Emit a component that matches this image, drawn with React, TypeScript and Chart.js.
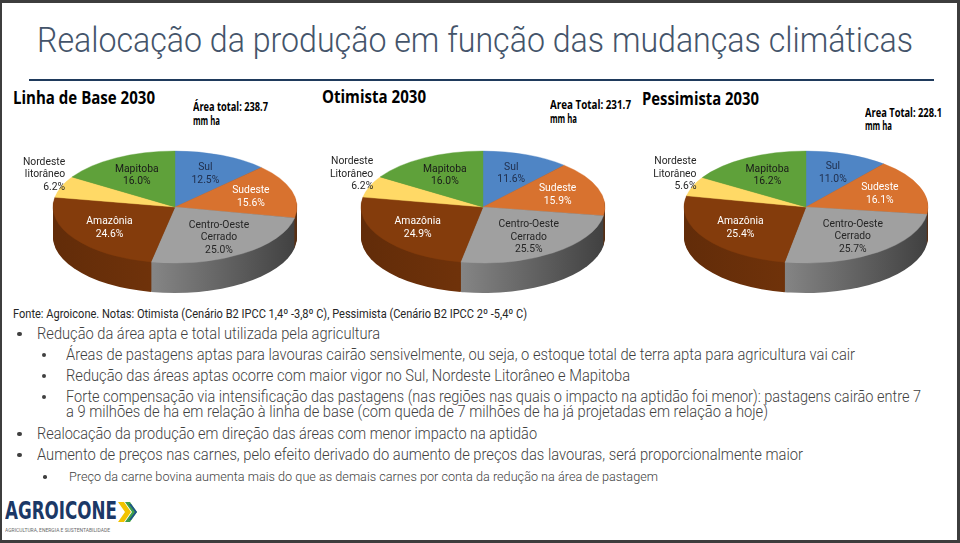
import React, { useEffect, useLayoutEffect, useRef } from "react";
import Chart from "chart.js/auto";

// ---------- DATA ----------
const categoriesBase = ["Sul", "Sudeste", "Centro-Oeste\nCerrado", "Amazônia", "Nordeste\nlitorâneo", "Mapitoba"];
const categoriesScen = ["Sul", "Sudeste", "Centro-Oeste\nCerrado", "Amazônia", "Nordeste\nLitorâneo", "Mapitoba"];
const baseValues = [12.5, 15.6, 25.0, 24.6, 6.2, 16.0];
const otimistaValues = [11.6, 15.9, 25.5, 24.9, 6.2, 16.0];
const pessimistaValues = [11.0, 16.1, 25.7, 25.4, 5.6, 16.2];
const sliceColors = ["#4F85C5", "#D8722F", "#A0A0A0", "#843C0C", "#FFD966", "#5FA13A"];
const labelColors = ["#1F2D4A", "#FFFFFF", "#262626", "#FFFFFF", "#262626", "#1A1A1A"];

const scenarioTitles = ["Linha de Base 2030", "Otimista 2030", "Pessimista 2030"];
const areaTotals = ["Área total: 238.7", "Area Total: 231.7", "Area Total: 228.1"];

const TITLE = "Realocação da produção em função das mudanças climáticas";
const SOURCE = "Fonte: Agroicone. Notas: Otimista (Cenário B2 IPCC 1,4º -3,8º C), Pessimista (Cenário B2 IPCC 2º -5,4º C)";

// ---------- PIE GEOMETRY ----------
const RX = 122;
const RY = 56;
const K = RY / RX;
const DEPTH = 30;
const CW = 320;
const CH = 190;

function shade(hex: string, f: number) {
  const n = parseInt(hex.slice(1), 16);
  const r = Math.round(((n >> 16) & 255) * f);
  const g = Math.round(((n >> 8) & 255) * f);
  const b = Math.round((n & 255) * f);
  return `rgb(${r},${g},${b})`;
}

const LABEL_FONT = "11.5px Roboto, 'Noto Sans', sans-serif";
const SX = 0.9;
const LH = 12.5;

const pie3d = {
  id: "pie3d",
  beforeDatasetsDraw(chart: any) {
    const ctx = chart.ctx;
    const arcs = chart.getDatasetMeta(0).data;
    if (!arcs.length) return;
    const cx = arcs[0].x, cy = arcs[0].y, r = arcs[0].outerRadius;
    const colors = chart.data.datasets[0].backgroundColor;
    for (let d = DEPTH; d >= 1; d--) {
      arcs.forEach((a: any, i: number) => {
        ctx.save();
        ctx.translate(cx, cy + d);
        ctx.scale(1, K);
        const g = ctx.createLinearGradient(-r, 0, r, 0);
        g.addColorStop(0, shade(colors[i], 0.74));
        g.addColorStop(0.4, shade(colors[i], 0.84));
        g.addColorStop(1, shade(colors[i], 0.4));
        ctx.fillStyle = g;
        ctx.beginPath();
        ctx.moveTo(0, 0);
        ctx.arc(0, 0, r, a.startAngle, a.endAngle);
        ctx.closePath();
        ctx.fill();
        ctx.restore();
      });
    }
    ctx.save();
    ctx.translate(cx, cy);
    ctx.scale(1, K);
    ctx.translate(-cx, -cy);
  },
  afterDatasetsDraw(chart: any) {
    const ctx = chart.ctx;
    ctx.restore();
    const arcs = chart.getDatasetMeta(0).data;
    const ds = chart.data.datasets[0];
    const labels = chart.data.labels as string[];
    ctx.save();
    ctx.font = LABEL_FONT;
    ctx.textBaseline = "middle";
    arcs.forEach((a: any, i: number) => {
      const v = ds.data[i] as number;
      const mid = (a.startAngle + a.endAngle) / 2;
      const lines = [...labels[i].split("\n"), v.toFixed(1) + "%"];
      const outside = v < 8;
      const f = outside ? 1.08 : 0.65;
      const px = a.x + Math.cos(mid) * a.outerRadius * f;
      const py = a.y + Math.sin(mid) * a.outerRadius * f * K;
      let bx = px, by = py;
      if (outside) { bx = px + 13; by = py - 11; }
      ctx.fillStyle = outside ? "#262626" : labelColors[i];
      ctx.textAlign = outside ? "right" : "center";
      lines.forEach((ln, j) => {
        ctx.save();
        ctx.translate(bx, by + (j - (lines.length - 1) / 2) * LH);
        ctx.scale(SX, 1);
        ctx.fillText(ln, 0, 0);
        ctx.restore();
      });
    });
    ctx.restore();
  },
};

function Pie3D({ values, labels, cx, cy }: { values: number[]; labels: string[]; cx: number; cy: number }) {
  const ref = useRef<HTMLCanvasElement>(null);
  useEffect(() => {
    if (!ref.current) return;
    const chart = new Chart(ref.current, {
      type: "pie",
      data: {
        labels,
        datasets: [
          {
            data: values,
            backgroundColor: sliceColors,
            borderColor: sliceColors,
            borderWidth: 0.5,
            radius: RX,
            clip: false,
          } as any,
        ],
      },
      options: {
        responsive: false,
        animation: false,
        events: [],
        layout: { padding: 0 },
        plugins: { legend: { display: false }, tooltip: { enabled: false } },
      },
      plugins: [pie3d as any],
    });
    return () => chart.destroy();
  }, []);
  return (
    <canvas
      ref={ref}
      width={CW}
      height={CH}
      style={{ position: "absolute", left: cx - CW / 2, top: cy - CH / 2, width: CW, height: CH }}
    />
  );
}

// ---------- TEXT ----------
function T({
  x, yc, w, size, weight = 400, color = "#3F3F3F", family = "Roboto, 'Noto Sans', sans-serif", children,
}: {
  x: number; yc: number; w?: number; size: number; weight?: number; color?: string; family?: string; children: React.ReactNode;
}) {
  const ref = useRef<HTMLSpanElement>(null);
  useLayoutEffect(() => {
    const el = ref.current;
    if (!el || !w) return;
    const fit = () => {
      el.style.transform = "none";
      const nat = el.getBoundingClientRect().width;
      if (nat > 0) el.style.transform = `scaleX(${w / nat})`;
    };
    fit();
    (document as any).fonts?.ready?.then(fit);
  }, [w]);
  return (
    <span
      ref={ref}
      style={{
        position: "absolute",
        left: x,
        top: yc - size * 0.6,
        fontSize: size,
        lineHeight: `${size * 1.2}px`,
        fontWeight: weight,
        color,
        fontFamily: family,
        whiteSpace: "nowrap",
        transformOrigin: "0 0",
      }}
    >
      {children}
    </span>
  );
}

function Dot({ x, yc, d }: { x: number; yc: number; d: number }) {
  return (
    <div style={{ position: "absolute", left: x, top: yc - d / 2, width: d, height: d, borderRadius: "50%", background: "#404040" }} />
  );
}

const BOLD = "'Open Sans', Roboto, sans-serif";

export default function App() {
  return (
    <div style={{ position: "fixed", left: 0, top: 0, width: 960, height: 543, background: "#fff", overflow: "hidden" }}>
      <T x={37} yc={40.5} w={876} size={35} weight={300} color="#44546A">{TITLE}</T>
      <div style={{ position: "absolute", left: 29, top: 78.5, width: 905, height: 2.5, background: "#1F3A5C" }} />

      <T x={13} yc={98.5} w={142} size={17} weight={700} color="#000" family={BOLD}>{scenarioTitles[0]}</T>
      <T x={193} yc={107} w={75} size={11.5} weight={700} color="#000" family={BOLD}>{areaTotals[0]}</T>
      <T x={193} yc={121} w={27} size={11.5} weight={700} color="#000" family={BOLD}>mm ha</T>

      <T x={322} yc={97} w={104} size={17} weight={700} color="#000" family={BOLD}>{scenarioTitles[1]}</T>
      <T x={550} yc={105} w={81} size={11.5} weight={700} color="#000" family={BOLD}>{areaTotals[1]}</T>
      <T x={550} yc={119} w={27} size={11.5} weight={700} color="#000" family={BOLD}>mm ha</T>

      <T x={642} yc={99} w={117} size={17} weight={700} color="#000" family={BOLD}>{scenarioTitles[2]}</T>
      <T x={865} yc={113} w={77} size={11.5} weight={700} color="#000" family={BOLD}>{areaTotals[2]}</T>
      <T x={865} yc={126} w={27} size={11.5} weight={700} color="#000" family={BOLD}>mm ha</T>

      <Pie3D values={baseValues} labels={categoriesBase} cx={175} cy={207} />
      <Pie3D values={otimistaValues} labels={categoriesScen} cx={483} cy={207} />
      <Pie3D values={pessimistaValues} labels={categoriesScen} cx={806} cy={207} />

      <T x={13} yc={313} w={514} size={12.5} weight={400} color="#262626">{SOURCE}</T>

      <Dot x={17} yc={334} d={4.5} />
      <T x={37} yc={334} w={343} size={16} weight={300}>Redução da área apta e total utilizada pela agricultura</T>
      <Dot x={42} yc={355} d={4} />
      <T x={66} yc={355} w={789} size={16} weight={300}>Áreas de pastagens aptas para lavouras cairão sensivelmente, ou seja, o estoque total de terra apta para agricultura vai cair</T>
      <Dot x={42} yc={376} d={4} />
      <T x={66} yc={376} w={564} size={16} weight={300}>Redução das áreas aptas ocorre com maior vigor no Sul, Nordeste Litorâneo e Mapitoba</T>
      <Dot x={42} yc={397} d={4} />
      <T x={66} yc={397} w={855} size={16} weight={300}>Forte compensação via intensificação das pastagens (nas regiões nas quais o impacto na aptidão foi menor): pastagens cairão entre 7</T>
      <T x={66} yc={412} w={702} size={16} weight={300}>a 9 milhões de ha em relação à linha de base (com queda de 7 milhões de ha já projetadas em relação a hoje)</T>
      <Dot x={17} yc={434} d={4.5} />
      <T x={37} yc={434} w={500} size={16} weight={300}>Realocação da produção em direção das áreas com menor impacto na aptidão</T>
      <Dot x={17} yc={455} d={4.5} />
      <T x={37} yc={455} w={766} size={16} weight={300}>Aumento de preços nas carnes, pelo efeito derivado do aumento de preços das lavouras, será proporcionalmente maior</T>
      <Dot x={43} yc={477} d={3.5} />
      <T x={69} yc={477} w={589} size={13} weight={300}>Preço da carne bovina aumenta mais do que as demais carnes por conta da redução na área de pastagem</T>

      {/* logo */}
      <T x={5} yc={511} w={112} size={25} weight={700} color="#1B3866" family="'DejaVu Sans Condensed', 'DejaVu Sans', sans-serif">AGROICONE</T>
      <svg style={{ position: "absolute", left: 117, top: 501 }} width={22} height={22} viewBox="0 0 22 22">
        <polygon points="1,1 7,1 14,11 7,21 1,21 8,11" fill="#F2C300" />
        <polygon points="8,1 13,1 20,11 13,21 8,21 15,11" fill="#3E9E4A" />
        <polygon points="12,3 14,3 20,11 14,19 12,19 18,11" fill="#1E4E8F" />
      </svg>
      <T x={5} yc={530} w={105} size={5.5} weight={400} color="#6A6A6A">AGRICULTURA, ENERGIA E SUSTENTABILIDADE</T>

      {/* frame */}
      <div
        style={{
          position: "absolute", left: 0, top: 0, width: 960, height: 543, boxSizing: "border-box",
          borderStyle: "solid", borderColor: "#3D3D3D", borderWidth: "3px 3px 3px 2px", pointerEvents: "none",
        }}
      />
    </div>
  );
}
